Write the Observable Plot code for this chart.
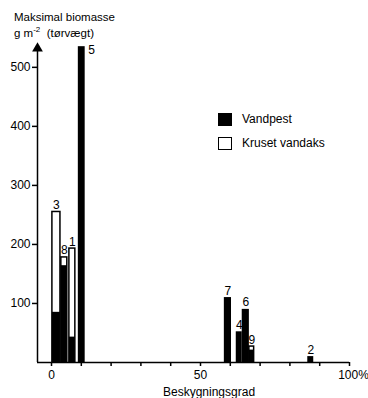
<!DOCTYPE html>
<html><head><meta charset="utf-8">
<script src="https://cdn.jsdelivr.net/npm/d3@7"></script>
<script src="https://cdn.jsdelivr.net/npm/@observablehq/plot@0.6"></script>
<style>
body{margin:0;background:#fff;font-family:"Liberation Sans",Arial,sans-serif;color:#000}
#wrap{position:relative;width:368px;height:398px}
.ov{position:absolute;white-space:nowrap;line-height:1}
.sw{position:absolute;width:14px;height:13px;box-sizing:border-box;border:1.5px solid #000}
</style></head>
<body>
<div id="wrap">
  <div class="ov" style="left:14px;top:12px;font-size:11.5px">Maksimal biomasse</div>
  <div class="ov" style="left:14px;top:26px;font-size:11.5px">g m<sup style="font-size:8px">-2</sup>&nbsp;&nbsp;(tørvægt)</div>
  <div class="sw" style="left:218px;top:113px;background:#000"></div>
  <div class="ov" style="left:242px;top:113px;font-size:12px">Vandpest</div>
  <div class="sw" style="left:218px;top:137px;background:#fff"></div>
  <div class="ov" style="left:242px;top:137px;font-size:12px">Kruset vandaks</div>
  <div class="ov" style="left:163px;top:386px;font-size:12px">Beskygningsgrad</div>
</div>
<script>
const labels   = ["3","8","1","5","7","4","6","9","2"];
const xStart   = [0.3, 3.3, 6, 9, 58, 62, 64, 66.4, 86];
const xEnd     = [3, 5.3, 8, 11.3, 60.4, 64, 66.4, 68, 88];
const vandpest = [85, 164, 43, 535, 110, 52, 90, 21, 10];
const kruset   = [255, 178, 193, null, null, null, null, 27, null];
const yTicks = [100, 200, 300, 400, 500];
const xTicks = [0, 10, 20, 30, 40, 50, 60, 70, 80, 90, 100];
const xTickLabels = {0: "0", 50: "50", 100: "100%"};
const xMin = -4.7;

const data = labels.map((l, i) => ({label: l, x1: xStart[i], x2: xEnd[i], vandpest: vandpest[i], kruset: kruset[i],
  top: Math.max(vandpest[i], kruset[i] ?? 0)}));

const chart = Plot.plot({
  width: 368, height: 398,
  marginLeft: 37, marginRight: 19, marginTop: 45, marginBottom: 36,
  x: {domain: [xMin, 100]},
  y: {domain: [0, 537]},
  style: {fontFamily: "Liberation Sans, Arial, sans-serif", fontSize: "12px", background: "white", color: "black"},
  marks: [
    Plot.rect(data.filter(d => d.kruset != null), {x1: "x1", x2: "x2", y1: d => 0, y2: "kruset", fill: "white", stroke: "black", strokeWidth: 1.5}),
    Plot.rect(data, {x1: "x1", x2: "x2", y1: d => 0, y2: "vandpest", fill: "black"}),
    Plot.ruleY([0], {strokeWidth: 1.5}),
    Plot.ruleX([xMin], {strokeWidth: 1.5}),
    Plot.dot([0], {frameAnchor: "top-left", symbol: "triangle", r: 4, fill: "black", dy: 3}),
    Plot.axisY({ticks: yTicks, tickSize: 5, tickPadding: 2, tickFormat: d => String(d), label: null, strokeWidth: 1.5}),
    Plot.axisX({ticks: xTicks, tickSize: 4, tickPadding: 4, tickFormat: d => xTickLabels[d] ?? "", label: null, strokeWidth: 1.5}),
    Plot.text(data.filter(d => d.label !== "5"), {x: d => (d.x1 + d.x2) / 2, y: "top", text: "label", lineAnchor: "bottom", dy: -3, fontSize: 12}),
    Plot.text(data.filter(d => d.label === "5"), {x: "x2", y: "top", text: "label", textAnchor: "start", lineAnchor: "top", dx: 3, dy: -1, fontSize: 12})
  ]
});
document.getElementById("wrap").prepend(chart);
d3.select(chart).selectAll("text").filter(function(){ return this.textContent === "100%"; }).attr("dx", "4");
</script>
</body></html>
